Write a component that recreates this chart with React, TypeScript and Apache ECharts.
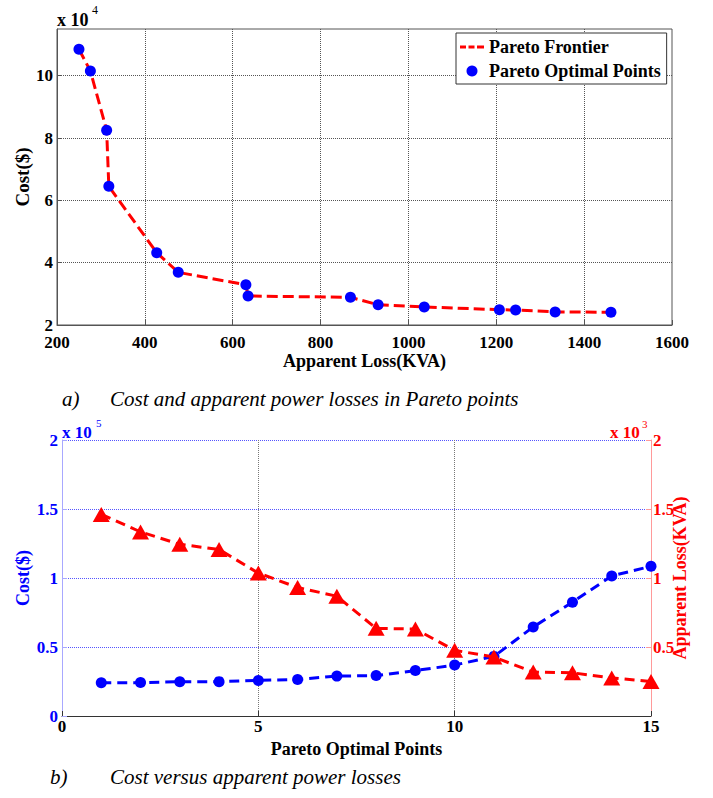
import React, { useEffect, useRef } from "react";
import * as echarts from "echarts";

// Pareto optimal points (sorted by apparent loss)
const lossKVA = [250, 276, 313, 318, 427, 476, 630, 635, 868, 931, 1036, 1207, 1244, 1334, 1461];
const costUSD = [108500, 101500, 82500, 64500, 43200, 36900, 32900, 29300, 28900, 26500, 25800, 24900, 24800, 24200, 24100];
// Bottom chart: point index 1..15 (cost ascending / loss descending)
const pointIndex = [1, 2, 3, 4, 5, 6, 7, 8, 9, 10, 11, 12, 13, 14, 15];
const captionA = "Cost and apparent power losses in Pareto points";
const captionB = "Cost versus apparent power losses";

const SERIF = "Liberation Serif";

export default function App() {
  const ref = useRef<HTMLDivElement>(null);
  useEffect(() => {
    document.body.style.margin = "0";
    const chart = echarts.init(ref.current!, null, { renderer: "svg" });
    const frontier = lossKVA.map((x, i) => [x, costUSD[i]]);
    const costAsc = [...costUSD].reverse();
    const lossDesc = [...lossKVA].reverse();
    const bottomCost = pointIndex.map((p, i) => [p, costAsc[i]]);
    const bottomLoss = pointIndex.map((p, i) => [p, lossDesc[i]]);

    const lbl = (color: string, size = 17) => ({
      fontFamily: SERIF,
      fontWeight: 700,
      fontSize: size,
      color,
    });

    chart.setOption({
      animation: false,
      backgroundColor: "#fff",
      textStyle: { fontFamily: SERIF },
      grid: [
        { left: 57, top: 29, width: 615, height: 296, show: true, borderColor: "#555", borderWidth: 1 },
        { left: 62, top: 440, width: 589, height: 276 },
      ],
      legend: {
        orient: "vertical",
        left: 456,
        top: 33,
        padding: [5, 6, 4, 4],
        itemGap: 6,
        itemWidth: 24,
        itemHeight: 11,
        symbolKeepAspect: true,
        borderColor: "#333",
        borderWidth: 1,
        backgroundColor: "#fff",
        selectedMode: false,
        textStyle: { ...lbl("#000", 18) },
        data: [
          { name: "Pareto Frontier", icon: "path://M0,0h6v3h-6z M8.5,0h6v3h-6z M17,0h7v3h-7z" },
          { name: "Pareto Optimal Points", icon: "circle" },
        ],
      },
      xAxis: [
        {
          gridIndex: 0,
          type: "value",
          min: 200,
          max: 1600,
          interval: 200,
          name: "Apparent Loss(KVA)",
          nameLocation: "middle",
          nameGap: 27,
          nameMoveOverlap: false,
          nameTextStyle: lbl("#000", 18),
          axisLine: { lineStyle: { color: "#555" } },
          axisTick: { inside: true, length: 5, lineStyle: { color: "#555" } },
          axisLabel: { ...lbl("#000"), margin: 9, formatter: (v: number) => String(v) },
          splitLine: { show: true, showMinLine: false, showMaxLine: false, lineStyle: { type: "dotted", color: "#555" } },
        },
        {
          gridIndex: 1,
          type: "value",
          min: 0,
          max: 15,
          interval: 5,
          name: "Pareto Optimal Points",
          nameLocation: "middle",
          nameGap: 24,
          nameMoveOverlap: false,
          nameTextStyle: lbl("#000", 18),
          axisLine: { lineStyle: { color: "#333" } },
          axisTick: { inside: true, length: 5, lineStyle: { color: "#333" } },
          axisLabel: { ...lbl("#000"), margin: 2, formatter: (v: number) => String(v) },
          splitLine: { show: true, showMinLine: false, showMaxLine: false, lineStyle: { type: "dotted", color: "#777" } },
        },
      ],
      yAxis: [
        {
          gridIndex: 0,
          type: "value",
          min: 20000,
          max: 115000,
          interval: 20000,
          name: "Cost($)",
          nameLocation: "middle",
          nameGap: 25,
          nameMoveOverlap: false,
          nameTextStyle: lbl("#000", 19),
          axisLine: { lineStyle: { color: "#555" } },
          axisTick: { inside: true, length: 5, lineStyle: { color: "#555" } },
          axisLabel: { ...lbl("#000"), margin: 4, showMaxLabel: false, formatter: (v: number) => String(v / 10000) },
          splitLine: { show: true, showMinLine: false, showMaxLine: false, lineStyle: { type: "dotted", color: "#555" } },
        },
        {
          gridIndex: 1,
          type: "value",
          position: "left",
          min: 0,
          max: 200000,
          interval: 50000,
          name: "Cost($)",
          nameLocation: "middle",
          nameGap: 30,
          nameMoveOverlap: false,
          nameTextStyle: lbl("#0000ff", 18),
          axisLine: { show: true, lineStyle: { color: "#a8a8ff" } },
          axisTick: { inside: true, length: 5, lineStyle: { color: "#a8a8ff" } },
          axisLabel: { ...lbl("#0000ff"), margin: 4, formatter: (v: number) => String(v / 100000) },
          splitLine: { show: true, showMinLine: false, lineStyle: { type: "dotted", color: "#5555ff" } },
        },
        {
          gridIndex: 1,
          type: "value",
          position: "right",
          min: 0,
          max: 2000,
          interval: 500,
          name: "Apparent Loss(KVA)",
          nameLocation: "middle",
          nameRotate: 90,
          nameGap: 20,
          nameMoveOverlap: false,
          nameTextStyle: lbl("#ff0000", 18),
          axisLine: { show: true, lineStyle: { color: "#ff9a9a" } },
          axisTick: { inside: true, length: 5, lineStyle: { color: "#ff9a9a" } },
          axisLabel: { ...lbl("#ff0000"), margin: 2, showMinLabel: false, formatter: (v: number) => String(v / 1000) },
          splitLine: { show: false },
        },
      ],
      series: [
        {
          name: "Pareto Frontier",
          type: "line",
          xAxisIndex: 0,
          yAxisIndex: 0,
          data: frontier,
          symbol: "none",
          color: "#ff0000",
          lineStyle: { color: "#ff0000", width: 3, type: [11, 5] },
          z: 2,
        },
        {
          name: "Pareto Optimal Points",
          type: "scatter",
          xAxisIndex: 0,
          yAxisIndex: 0,
          data: frontier,
          symbol: "circle",
          symbolSize: 11,
          color: "#0000ff",
          itemStyle: { color: "#0000ff", opacity: 1 },
          z: 3,
        },
        {
          name: "Cost",
          type: "line",
          xAxisIndex: 1,
          yAxisIndex: 1,
          data: bottomCost,
          symbol: "circle",
          symbolSize: 11,
          color: "#0000ff",
          itemStyle: { color: "#0000ff" },
          lineStyle: { color: "#0000ff", width: 3, type: [10, 6] },
          z: 2,
        },
        {
          name: "Apparent Loss",
          type: "line",
          xAxisIndex: 1,
          yAxisIndex: 2,
          data: bottomLoss,
          symbol: "triangle",
          symbolSize: [17, 15],
          color: "#ff0000",
          itemStyle: { color: "#ff0000" },
          lineStyle: { color: "#ff0000", width: 3, type: [10, 6] },
          z: 3,
        },
      ],
      graphic: [
        { type: "text", x: 57, y: 20, style: { text: "x 10", font: `bold 18px ${SERIF}`, fill: "#000", verticalAlign: "middle" } },
        { type: "text", x: 92, y: 10, style: { text: "4", font: `12px ${SERIF}`, fill: "#000", verticalAlign: "middle" } },
        { type: "text", x: 62, y: 432, style: { text: "x 10", font: `bold 17px ${SERIF}`, fill: "#0000ff", verticalAlign: "middle" } },
        { type: "text", x: 96, y: 423, style: { text: "5", font: `11px ${SERIF}`, fill: "#0000ff", verticalAlign: "middle" } },
        { type: "text", x: 610, y: 432, style: { text: "x 10", font: `bold 17px ${SERIF}`, fill: "#ff0000", verticalAlign: "middle" } },
        { type: "text", x: 642, y: 424, style: { text: "3", font: `11px ${SERIF}`, fill: "#ff0000", verticalAlign: "middle" } },
        { type: "text", x: 62, y: 399, style: { text: "a)", font: `italic 21px ${SERIF}`, fill: "#000", verticalAlign: "middle" } },
        { type: "text", x: 110, y: 399, style: { text: captionA, font: `italic 21px ${SERIF}`, fill: "#000", verticalAlign: "middle" } },
        { type: "text", x: 50, y: 777, style: { text: "b)", font: `italic 21px ${SERIF}`, fill: "#000", verticalAlign: "middle" } },
        { type: "text", x: 110, y: 777, style: { text: captionB, font: `italic 21px ${SERIF}`, fill: "#000", verticalAlign: "middle" } },
      ],
    });
    return () => chart.dispose();
  }, []);
  return <div ref={ref} style={{ width: 713, height: 798 }} />;
}
